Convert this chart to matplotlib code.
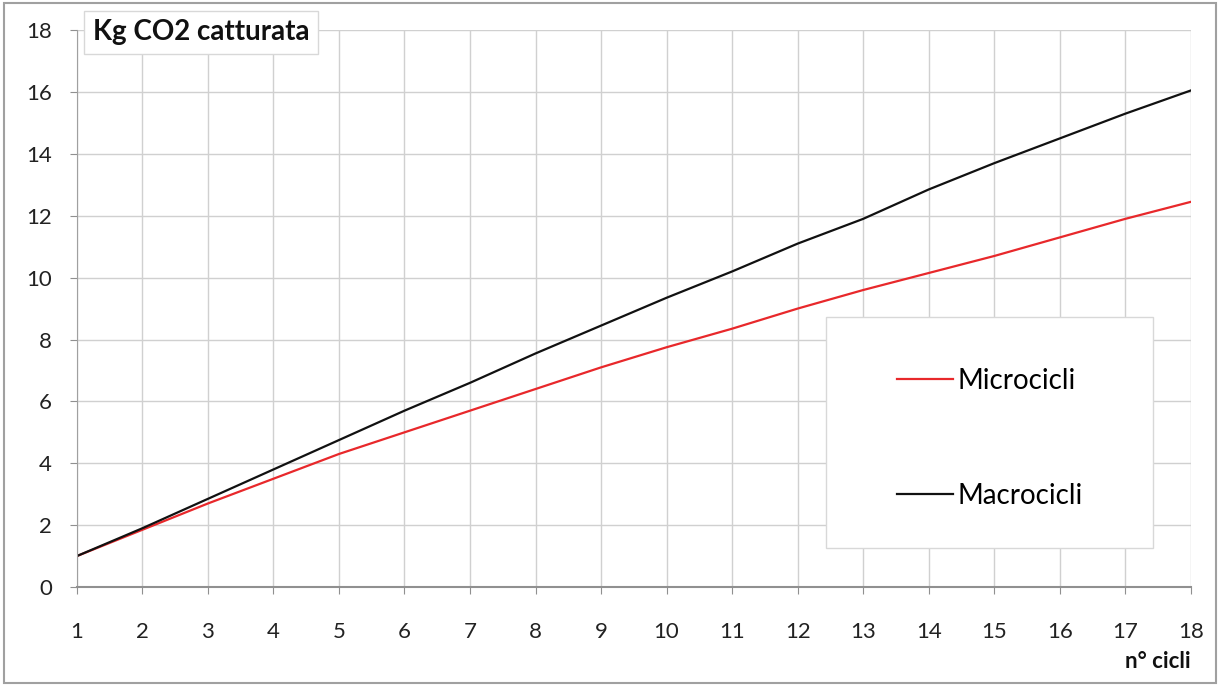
import matplotlib
matplotlib.use("Agg")
import matplotlib.pyplot as plt
from matplotlib.patches import Rectangle

plt.rcParams['font.family'] = ['Lato', 'DejaVu Sans']

# number of cycles
cicli = list(range(1, 19))

# kg of CO2 captured
microcicli = [1.0, 1.85, 2.7, 3.5, 4.3, 5.0, 5.7, 6.4, 7.1, 7.75, 8.35, 9.0, 9.6, 10.15, 10.7, 11.3, 11.9, 12.45]
macrocicli = [1.0, 1.9, 2.85, 3.8, 4.75, 5.7, 6.6, 7.55, 8.45, 9.35, 10.2, 11.1, 11.9, 12.85, 13.7, 14.5, 15.3, 16.05]

y_ticks = list(range(0, 19, 2))

fig = plt.figure(figsize=(12.2, 6.86), dpi=100)
ax = fig.add_axes([0.063, 0.1443, 0.913, 0.8117])

# outer frame of the picture
fig.patches.append(Rectangle((0.003, 0.004), 0.994, 0.992, transform=fig.transFigure,
                             fill=False, edgecolor='#a0a0a0', linewidth=1.5))

ax.plot(cicli, microcicli, color='#e8282b', linewidth=1.6, label='Microcicli')
ax.plot(cicli, macrocicli, color='#111111', linewidth=1.6, label='Macrocicli')

ax.set_xlim(1, 18)
ax.set_ylim(0, 18)
ax.set_xticks(cicli)
ax.set_yticks(y_ticks)
ax.grid(True, color='#d0d0d0', linewidth=1.0)
ax.set_axisbelow(True)

for s in ['top', 'right']:
    ax.spines[s].set_visible(False)
ax.spines['left'].set_color('#a0a0a0')
ax.spines['bottom'].set_color('#909090')
ax.spines['bottom'].set_linewidth(1.5)
ax.tick_params(axis='both', colors='#909090', labelcolor='#222222', labelsize=16, length=5)
ax.tick_params(axis='x', pad=20)
ax.tick_params(axis='y', pad=13)

# title box in upper left
fig.text(0.076, 0.953, 'Kg CO2 catturata', fontsize=20, fontweight='bold', color='#111111',
         ha='left', va='center',
         bbox=dict(boxstyle='square,pad=0.3', facecolor='white', edgecolor='#d8d8d8'))

# axis label at lower right
fig.text(0.976, 0.035, 'n° cicli', fontsize=16, fontweight='bold', color='#111111',
         ha='right', va='center')

# legend box
ax.add_patch(Rectangle((0.677, 0.201), 0.268, 0.337, transform=fig.transFigure,
                       facecolor='white', edgecolor='#d8d8d8', linewidth=1.0, zorder=5,
                       clip_on=False))
leg = ax.legend(loc='upper left', bbox_to_anchor=(0.715, 0.5), bbox_transform=fig.transFigure,
                frameon=False, fontsize=20, labelspacing=3.2, handlelength=2.0, handletextpad=0.15)
leg.set_zorder(6)

fig.savefig('out.png', dpi=100, facecolor='white')
